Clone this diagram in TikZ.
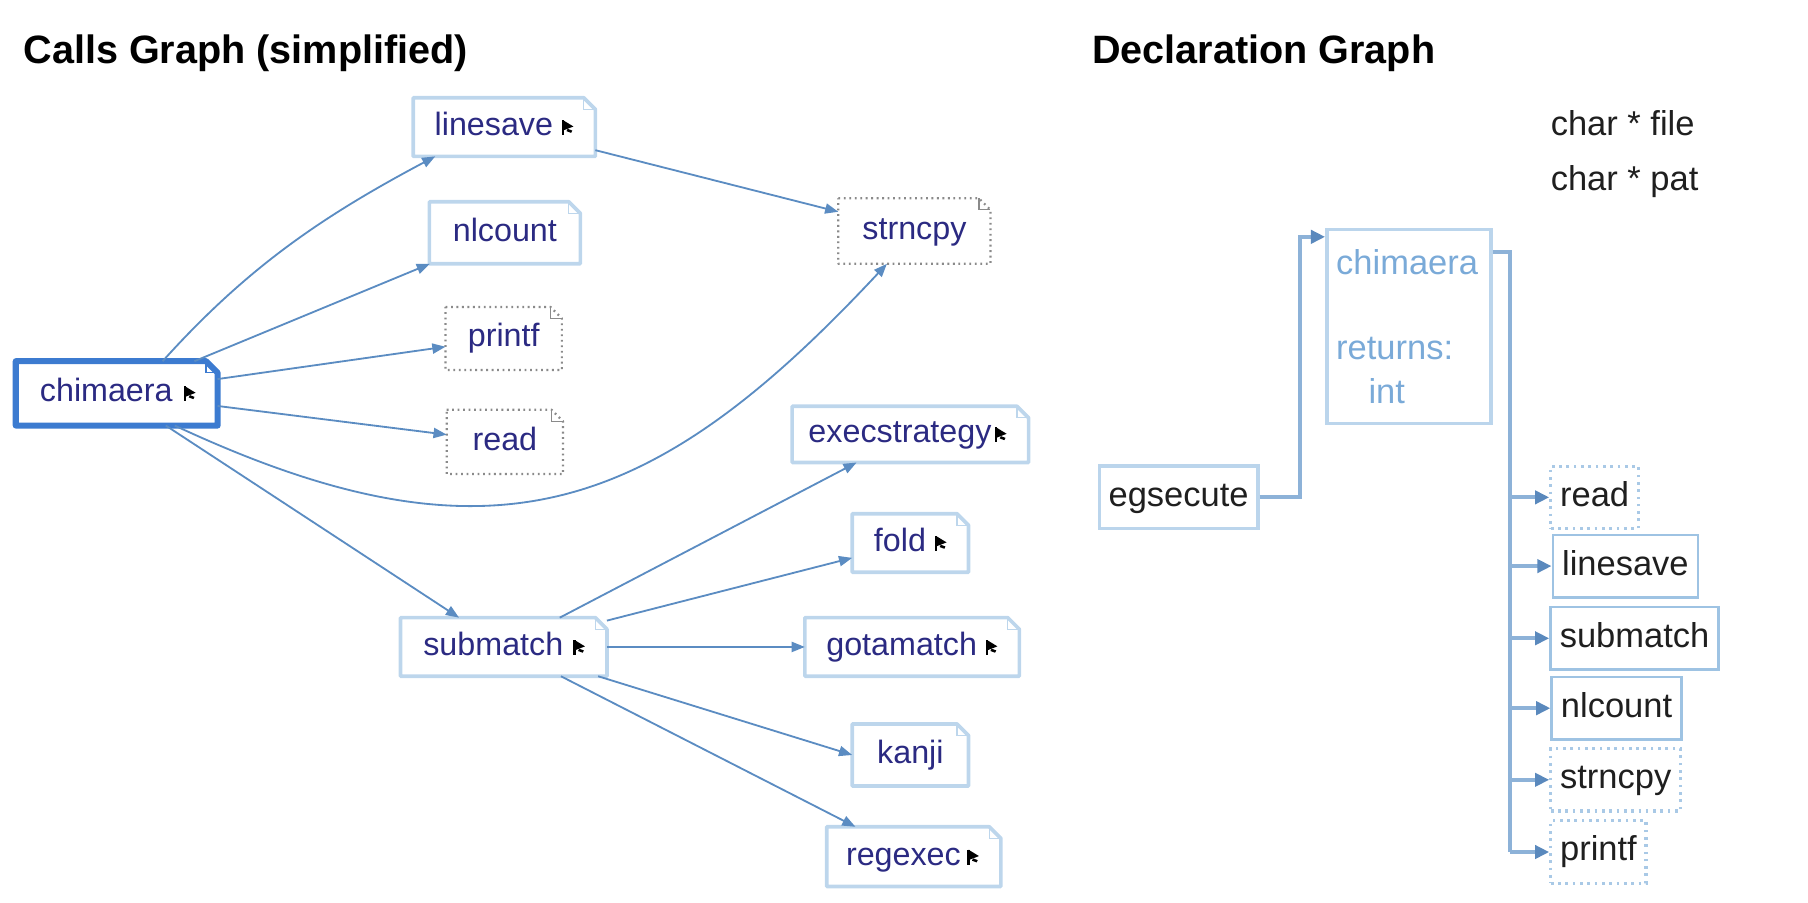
\documentclass[tikz,border=0pt]{standalone}
\usepackage{fontspec}
\setmainfont{Liberation Sans}
\usetikzlibrary{arrows.meta,calc}
\newlength\px \setlength\px{0.02cm}
\definecolor{cborder}{HTML}{BDD6EC}
\definecolor{cstrong}{HTML}{3C7BD0}
\definecolor{cdot}{HTML}{8A8A8A}
\definecolor{cedge}{HTML}{5B8CC2}
\definecolor{ctext}{HTML}{2B2A82}
\definecolor{dline}{HTML}{8DB2D8}
\definecolor{dtip}{HTML}{5A89BD}
\definecolor{dborder}{HTML}{9EC3E3}
\definecolor{dlight}{HTML}{BBD5EC}
\definecolor{ddot}{HTML}{A9C9E6}
\definecolor{dtitle}{HTML}{7AAAD8}
\newcommand\flagsp{\kern0.36cm}
\newcommand\earbox[2]{%
  \draw[#2,line join=round] (#1.north west) -- ($(#1.north east)+(-10,0)$) -- ($(#1.north east)+(0,-10)$) -- (#1.south east) -- (#1.south west) -- cycle;
  \draw[#2,line width=0.6pt,solid] ($(#1.north east)+(-10,0)$) -- ($(#1.north east)+(-10,-10)$) -- ($(#1.north east)+(0,-10)$);}
\tikzset{
  title/.style={inner sep=0pt, anchor=base west, font=\bfseries\fontsize{19.5}{23}\selectfont},
  cnode/.style={inner sep=0pt, text=ctext, font=\fontsize{15.9}{18}\selectfont, text height=11.5pt, text depth=3.2pt},
  lightbox/.style={draw=cborder, line width=1.8pt},
  strongbox/.style={draw=cstrong, line width=3pt},
  dotbox/.style={draw=cdot, line width=1.1pt, dash pattern=on 0.9pt off 1.8pt},
  cedge/.style={draw=cedge, line width=0.9pt, -{Triangle[length=6.5pt,width=5pt]}},
  flag/.pic={\draw[line width=1.1pt] (0,6) -- (0,-7); \fill (0,6) -- (9,0.5) -- (0,-3) -- cycle; \fill (4,-1.5) -- (8,-3) -- (7,-5) -- (3,-3.5) -- cycle;},
  dnode/.style={anchor=west, inner xsep=8\px, inner ysep=0pt, minimum height=54\px, text=black!88, font=\fontsize{17}{20}\selectfont, text height=12.3pt, text depth=3.5pt},
  dsolid/.style={draw=dborder, line width=1.3pt},
  ddotted/.style={draw=ddot, line width=1.6pt, dash pattern=on 1.3pt off 2.3pt},
  dmain/.style={draw=dlight, line width=1.8pt},
  trunk/.style={draw=dline, line width=2pt},
  dedge/.style={draw=dline, line width=2pt, -{Triangle[length=7pt,width=6.5pt,color=dtip]}},
  plain/.style={inner sep=0pt, anchor=base west, text=black!88, font=\fontsize{17}{20}\selectfont}
}
\begin{document}
\begin{tikzpicture}[x=0.02cm,y=0.02cm]
\useasboundingbox (0,0) rectangle (1565,-781);
% titles
\node[title] (t1) at (20,-55) {Calls Graph (simplified)};
\node[title] (t2) at (945,-55) {Declaration Graph};
% ---------------- calls graph
\node[cnode, minimum width=174\px, minimum height=55\px] (chimaera) at (101,-340.5) {chimaera\flagsp};
\node[cnode, minimum width=157\px, minimum height=50\px] (linesave) at (436.5,-110) {linesave\flagsp};
\node[cnode, minimum width=130\px, minimum height=53\px] (nlcount) at (437,-201.5) {nlcount};
\node[cnode, minimum width=100\px, minimum height=54\px] (printf) at (436,-293) {printf};
\node[cnode, minimum width=100\px, minimum height=55\px] (read) at (437,-382.5) {read};
\node[cnode, minimum width=131\px, minimum height=56\px] (strncpy) at (791.5,-200) {strncpy};
\node[cnode, minimum width=204\px, minimum height=48\px] (execstrategy) at (788,-376) {execstrategy\flagsp};
\node[cnode, minimum width=100\px, minimum height=50\px] (fold) at (788,-470) {fold\flagsp};
\node[cnode, minimum width=185\px, minimum height=50\px] (gotamatch) at (789.5,-560) {gotamatch\flagsp};
\node[cnode, minimum width=100\px, minimum height=53\px] (kanji) at (788,-653.5) {kanji};
\node[cnode, minimum width=150\px, minimum height=51\px] (regexec) at (791,-741.5) {regexec\flagsp};
\node[cnode, minimum width=178\px, minimum height=50\px] (submatch) at (436,-560) {submatch\flagsp};
\earbox{chimaera}{strongbox}
\foreach \n in {linesave,nlcount,execstrategy,fold,gotamatch,kanji,regexec,submatch} {\earbox{\n}{lightbox}}
\foreach \n in {printf,read,strncpy} {\earbox{\n}{dotbox}}
\foreach \n in {chimaera,linesave,execstrategy,fold,gotamatch,regexec,submatch} {\pic at ($(\n.east)+(-28,0)$) {flag};}
% calls edges
\draw[cedge] (chimaera.35) .. controls +(48:110) and +(208:110) .. (linesave.203);
\draw[cedge] (chimaera) -- (nlcount);
\draw[cedge] (chimaera) -- (printf);
\draw[cedge] (chimaera) -- (read);
\draw[cedge] (chimaera.-29) .. controls +(-25:300) and +(227:300) .. (strncpy.230);
\draw[cedge] (chimaera) -- (submatch);
\draw[cedge] (linesave) -- (strncpy);
\draw[cedge] (submatch) -- (execstrategy);
\draw[cedge] (submatch) -- (fold);
\draw[cedge] (submatch) -- (gotamatch);
\draw[cedge] (submatch) -- (kanji.west);
\draw[cedge] (submatch) -- (regexec);
% ---------------- declaration graph
\node[plain] (p1) at (1342,-117) {char * file};
\node[plain] (p2) at (1342,-165) {char * pat};
\node[dnode, dmain] (egsecute) at (950,-430.5) {egsecute};
\node[dmain, anchor=north west, minimum width=142\px, minimum height=168\px, text width=126\px, inner xsep=8\px, align=left, text=dtitle, font=\fontsize{17}{21.5}\selectfont] (dchimaera) at (1147,-197) {chimaera\\[0.72cm]returns:\\\hspace*{0.56cm}int};
\node[dnode, ddotted] (dread) at (1341,-430.5) {read};
\node[dnode, dsolid] (dlinesave) at (1343,-490) {linesave};
\node[dnode, dsolid] (dsubmatch) at (1341,-552.5) {submatch};
\node[dnode, dsolid] (dnlcount) at (1342,-613) {nlcount};
\node[dnode, ddotted] (dstrncpy) at (1341,-675) {strncpy};
\node[dnode, ddotted] (dprintf) at (1341,-737.5) {printf};
\coordinate (ej) at (1125,-205);
\draw[dedge] (egsecute.east) -| (ej) -- (dchimaera.west |- ej);
\coordinate (tt) at (1307,-218);
\draw[trunk] (dchimaera.east |- tt) -- (tt) -- (tt |- dprintf.west);
\foreach \n in {dread,dlinesave,dsubmatch,dnlcount,dstrncpy,dprintf} {\draw[dedge] (tt |- \n.west) -- (\n.west);}
\end{tikzpicture}
\end{document}
